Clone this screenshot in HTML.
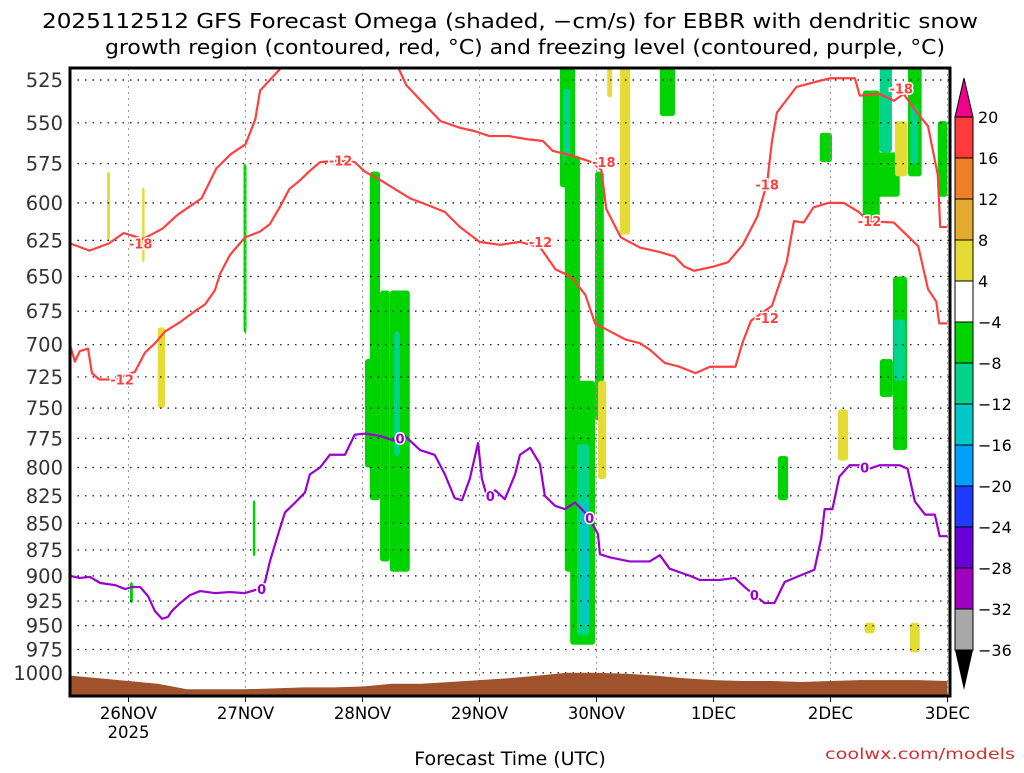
<!DOCTYPE html>
<html><head><meta charset="utf-8"><style>
body{margin:0;background:#fff;width:1024px;height:768px;overflow:hidden}
svg text{font-family:"DejaVu Sans","Liberation Sans",sans-serif}
</style></head><body>
<svg id="chart" width="1024" height="768" viewBox="0 0 1024 768" xmlns="http://www.w3.org/2000/svg">
<text x="510" y="28" font-size="20" text-anchor="middle" textLength="936" lengthAdjust="spacingAndGlyphs">2025112512 GFS Forecast Omega (shaded, −cm/s) for EBBR with dendritic snow</text>
<text x="525" y="54" font-size="20" text-anchor="middle" textLength="840" lengthAdjust="spacingAndGlyphs">growth region (contoured, red, °C) and freezing level (contoured, purple, °C)</text>
<g id="plot"></g>
<text x="510" y="765" font-size="19" text-anchor="middle">Forecast Time (UTC)</text>
<text x="1015" y="759" font-size="15" fill="#d03030" text-anchor="end" textLength="190" lengthAdjust="spacingAndGlyphs">coolwx.com/models</text>
</svg>
<script>
const pressureTicks=[525,550,575,600,625,650,675,700,725,750,775,800,825,850,875,900,925,950,975,1000];
const dayTicks=[12,36,60,84,108,132,156,180];
const dayLabels=["26NOV","27NOV","28NOV","29NOV","30NOV","1DEC","2DEC","3DEC"];
const cbLevels=[20,16,12,8,4,-4,-8,-12,-16,-20,-24,-28,-32,-36];
const cbColors=["#ff3a3a","#f08028","#e4aa30","#e4dc34","#ffffff","#00d400","#00d38a","#00c8c8","#00a0ff","#1e3cff","#6a00d8","#a000c0","#a8a8a8"];
const sfcHours=[0,6,12,18,24,30,36,42,48,54,60,66,72,78,84,90,96,102,108,114,120,126,132,138,144,150,156,162,168,174,180];
const sfcPres=[1003,1006,1009,1012,1018,1018,1018,1017,1016,1016,1015,1012,1012,1010,1008,1006,1003,1000,1000,1001,1003,1006,1008,1009,1009,1010,1009,1008,1008,1008,1009];
const red18a=[[0,627],[4,632],[8,627],[11,620],[15,624],[19,617],[22,608],[27,597],[30,578],[33,569],[36,563],[38,548],[39,531],[42,522],[44,516]];
const red18b=[[67,516],[69,528],[72,537],[76,549],[80,553],[83,555],[86,558],[90,558],[94,560],[97,561],[99,567],[103,570],[107,574],[109,579],[110,604],[113,623],[117,630],[121,633],[124,636],[126,643],[128,646],[132,643],[135,640],[138,628],[141,609],[143,587],[144,561],[145,544],[149,529],[153,526],[156,524],[161,524],[162,534],[166,533],[169,537],[171,533],[174,545],[176,552],[178,582],[178.5,616],[180,616]];
const red12=[[0,700],[1,713],[2,705],[3.7,703],[4.5,722],[6,727],[9,727],[13.3,721],[15.4,706],[17.4,699],[19.5,690],[22.6,683],[25.6,675],[27.7,670],[29.7,660],[30.8,648],[32.8,635],[35.9,623],[39,619],[41,614],[43,603],[45,591],[47,586],[49,580],[51.3,574],[55.3,573],[58.4,574],[60.5,580],[63.5,585],[66.6,591],[69.7,597],[73.8,602],[76.9,606],[80,616],[84,626],[88.2,628],[92.3,626],[96.5,630],[99.6,645],[102.7,650],[105.7,663],[107.7,684],[110.8,690],[113.9,696],[117,699],[119,704],[122,714],[125,717],[128.3,722],[131.3,717],[136.5,717],[138,698],[139.7,682],[144,671],[147,640],[148.5,612],[150.5,613],[152.5,603],[155.6,600],[158.7,600],[161.8,606],[163.8,612],[169,613],[174,629],[176,659],[177.7,668],[178.3,684],[180,684]];
const purple0=[[0,900],[2,902],[4.1,901],[6.2,907],[9.2,909],[11.3,913],[12.7,911],[14.4,911],[16,920],[17.4,935],[18.9,943],[20.1,941],[20.9,935],[22.6,927],[24.6,919],[26.7,915],[29.7,917],[32.8,916],[35.9,917],[38.6,913],[40,906],[41,886],[42.7,860],[44.1,840],[46.2,831],[48.2,822],[49.2,806],[51.3,800],[53.3,789],[56.4,789],[58.4,772],[60.5,771],[63.5,773],[66.6,777],[68.7,773],[71.8,785],[74.8,789],[76.9,806],[78.9,827],[80.4,829],[82,810],[83.7,779],[84.5,810],[85.5,825],[87.2,820],[89.2,828],[91.3,806],[92.3,789],[94.4,783],[96.4,797],[97.4,825],[99.5,834],[101.5,837],[103.6,831],[105.6,840],[106.6,846],[108.3,860],[108.7,879],[110.7,882],[114.8,886],[118.9,886],[121,880],[123,893],[127.2,900],[129.2,904],[133.3,904],[136.4,902],[138.4,911],[140.4,919],[142.5,927],[144.5,927],[146.6,906],[149.6,900],[152.7,894],[154.1,864],[154.8,837],[156.4,837],[157.8,808],[159.9,798],[162,798],[164,801],[166.1,798],[170.2,798],[171.8,801],[173.3,830],[175.4,842],[177.4,842],[178.4,862],[180,862]];
const red18Labels=[[14.5,627],[109.5,574],[143,588],[170.5,530]];
const red12Labels=[[10.7,727],[55.5,573],[96.5,626],[143,680],[164,612]];
const purple0Labels=[[39.3,913],[67.7,775],[86.2,825],[106.6,845],[140.4,919],[163,800]];
// omega blobs: [hourStart, hourEnd, pTop, pBottom, omega]
const blobs=[
[7.6,8.2,580,625,6],[14.8,15.3,590,640,6],[18,19.5,687,750,6],[35.6,36.2,575,691,-6],[37.5,38,829,881,-6],[12.3,12.9,906,927,-6],
[60.5,62,711,800,-6],[61.5,63.6,580,829,-6],[63.6,65.6,660,886,-6],[65.6,69.7,660,896,-6],[66.5,67.6,690,790,-10],
[100.5,103.6,518,590,-6],[101.2,102.6,530,575,-10],[101.5,104.6,570,896,-6],[102.6,107.7,728,970,-6],[104,106.5,780,960,-10],[105,106.5,830,950,-14],
[107.7,109.5,580,760,-6],[108.3,110,728,810,6],[110.2,111.2,518,535,6],[112.8,114.9,518,621,6],[121,124.1,518,546,-6],
[145.2,147.3,790,829,-6],[153.8,156.3,556,574,-6],[157.5,159.6,751,794,6],
[162.6,166.1,531,611,-6],[166.1,168.6,518,568,-10],[165.1,170.2,568,596,-6],[169.2,171.7,549,583,6],
[171.9,174.7,518,583,-6],[172.4,174,540,575,-10],[178,180,549,596,-6],
[168.8,171.7,650,785,-6],[169,171.3,681,728,-10],[166.1,168.8,711,741,-6],
[163,165.1,947,958,6],[172.3,174.3,947,978,6]];
const NS="http://www.w3.org/2000/svg";
const L=70,R=950,T=68,B=696;
function xs(h){return L+h*117/24;}
function ys(p){return 80+920*Math.log(p/525);}
function omegaColor(v){for(let i=0;i<cbColors.length;i++){if(v<=cbLevels[i]&&v>cbLevels[i+1])return cbColors[i];}return "#fff";}
const plot=document.getElementById('plot');
function mk(tag,attrs,parent){const e=document.createElementNS(NS,tag);for(const k in attrs)e.setAttribute(k,attrs[k]);(parent||plot).appendChild(e);return e;}
const clip=mk('clipPath',{id:'pc'});mk('rect',{x:L,y:T,width:R-L,height:B-T},clip);
const g=mk('g',{'clip-path':'url(#pc)'});
blobs.forEach(b=>{const r=mk('rect',{x:xs(b[0]),y:ys(b[2]),width:xs(b[1])-xs(b[0]),height:ys(b[3])-ys(b[2]),rx:3,fill:omegaColor(b[4])},g);

});
pressureTicks.forEach(p=>{const l=mk('line',{x1:L,x2:R,y1:ys(p),y2:ys(p),stroke:'#000','stroke-dasharray':'1.5 6','stroke-width':1.2},g);


const t=mk('text',{x:63,y:ys(p)+7,'font-size':19.5,'text-anchor':'end',fill:'#333'});t.textContent=p;

});
dayTicks.forEach((h,i)=>{const l=mk('line',{x1:xs(h),x2:xs(h),y1:T,y2:B,stroke:'#999','stroke-dasharray':'2 4'},g);


mk('line',{x1:xs(h),x2:xs(h),y1:B,y2:B+6,stroke:'#000'});
const t=mk('text',{x:xs(h),y:719,'font-size':16.5,'text-anchor':'middle'});t.textContent=dayLabels[i];

});
const yr=mk('text',{x:xs(12),y:738,'font-size':16.5,'text-anchor':'middle'});yr.textContent='2025';


let d='M'+xs(0)+','+B;sfcHours.forEach((h,i)=>{d+=' L'+xs(h)+','+ys(sfcPres[i]);});d+=' L'+xs(180)+','+B+'Z';
const ter=mk('path',{d:d,fill:'#a0522d'},g);


function line(pts,col,name){const p=mk('polyline',{points:pts.map(q=>xs(q[0])+','+ys(q[1])).join(' '),fill:'none',stroke:col,'stroke-width':2.2,'stroke-linejoin':'round'},g);

}
line(red18a,'#ff4040','contour-minus18-a');line(red18b,'#ff4040','contour-minus18-b');line(red12,'#ff4040','contour-minus12');line(purple0,'#9a00d0','freezing-level');
function labels(arr,txt,col,name){arr.forEach(q=>{const t=mk('text',{x:xs(q[0]),y:ys(q[1])+5,'font-size':13,'font-weight':'bold','text-anchor':'middle',fill:col,stroke:'#fff','stroke-width':3,'paint-order':'stroke'},g);t.textContent=txt;

});}
labels(red18Labels,'-18','#ff4040','label-minus18');labels(red12Labels,'-12','#ff4040','label-minus12');labels(purple0Labels,'0','#9a00d0','label-zero');
const fr=mk('rect',{x:L,y:T,width:R-L,height:B-T,fill:'none',stroke:'#000','stroke-width':3});


const cx=955,cw=18,ct=117,step=(650-117)/13;
const up=mk('polygon',{points:`${cx},${ct} ${cx+cw},${ct} ${cx+cw/2},78`,fill:'#f0008c',stroke:'#000'});


cbColors.forEach((c,i)=>{const r=mk('rect',{x:cx,y:ct+i*step,width:cw,height:step,fill:c,stroke:'#000','stroke-width':1});

});
const dn=mk('polygon',{points:`${cx},650 ${cx+cw},650 ${cx+cw/2},690`,fill:'#000'});


cbLevels.forEach((v,i)=>{const t=mk('text',{x:978,y:ct+i*step+6,'font-size':16});t.textContent=v<0?'−'+(-v):v;

});
</script>
</body></html>
